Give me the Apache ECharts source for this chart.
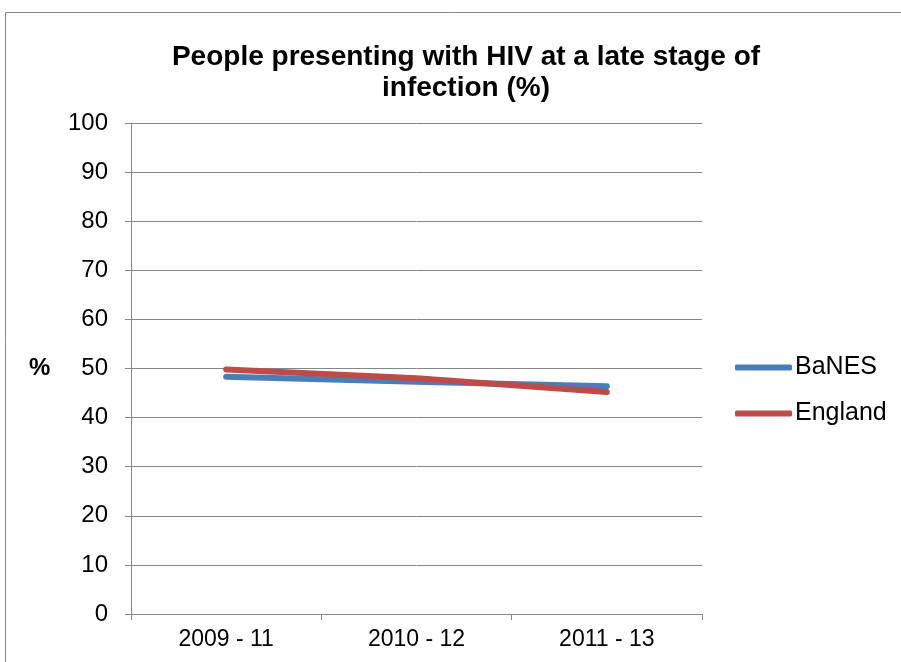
<!DOCTYPE html>
<html>
<head>
<meta charset="utf-8">
<script src="https://cdn.jsdelivr.net/npm/echarts@6/dist/echarts.min.js"></script>
<style>
  html, body { margin: 0; padding: 0; background: #fff; }
  #main { width: 901px; height: 662px; }
</style>
</head>
<body>
<div id="main"></div>
<script>
// data
var categories = ['2009 - 11', '2010 - 12', '2011 - 13'];
var banes = [48.3, 47.3, 46.4];
var england = [49.8, 48.0, 45.2];
var yTicks = [0, 100, 10]; // min, max, interval

var myChart = echarts.init(document.getElementById('main'));
var font = '"Liberation Sans", Arial, sans-serif';

myChart.setOption({
  animation: false,
  textStyle: { fontFamily: font },
  title: {
    text: 'People presenting with HIV at a late stage of\ninfection (%)',
    left: 461,
    textAlign: 'center',
    top: 37,
    textStyle: { fontSize: 28, fontWeight: 'bold', color: '#000', lineHeight: 31, fontFamily: font }
  },
  graphic: [
    {
      type: 'rect',
      shape: { x: 5.5, y: 12.5, width: 920, height: 700 },
      style: { fill: 'none', stroke: '#868686', lineWidth: 1 },
      silent: true
    },
    {
      type: 'text',
      left: 29,
      top: 356,
      style: { text: '%', fontSize: 24, fontWeight: 'bold', fill: '#000', fontFamily: font }
    }
  ],
  legend: {
    orient: 'vertical',
    left: 730,
    top: 350,
    itemWidth: 57,
    itemHeight: 6,
    itemGap: 21,
    icon: 'roundRect',
    textStyle: { fontSize: 25, color: '#000', padding: [0, 0, 0, -2], fontFamily: font },
    data: ['BaNES', 'England']
  },
  grid: { left: 131, top: 123, right: 199, bottom: 48, containLabel: false },
  xAxis: {
    type: 'category',
    data: categories,
    boundaryGap: true,
    axisLine: { lineStyle: { color: '#868686', width: 1 } },
    axisTick: { show: true, length: 6, inside: false, lineStyle: { color: '#868686' } },
    axisLabel: { color: '#000', fontSize: 23, margin: 14, fontFamily: font },
    splitLine: { show: false }
  },
  yAxis: {
    type: 'value',
    min: yTicks[0],
    max: yTicks[1],
    interval: yTicks[2],
    axisLine: { show: true, lineStyle: { color: '#868686', width: 1 } },
    axisTick: { show: true, length: 6, lineStyle: { color: '#868686' } },
    axisLabel: { color: '#000', fontSize: 24, margin: 23, fontFamily: font },
    splitLine: { show: true, lineStyle: { color: '#868686', width: 1 } }
  },
  series: [
    {
      name: 'BaNES',
      type: 'line',
      data: banes,
      symbol: 'none',
      lineStyle: { color: '#4a7ebb', width: 6, cap: 'round' },
      itemStyle: { color: '#4a7ebb' }
    },
    {
      name: 'England',
      type: 'line',
      data: england,
      symbol: 'none',
      lineStyle: { color: '#be4b48', width: 6, cap: 'round' },
      itemStyle: { color: '#be4b48' }
    }
  ]
});
</script>
</body>
</html>
